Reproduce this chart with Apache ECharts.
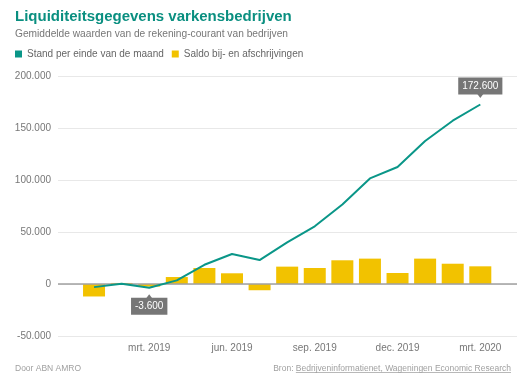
<!DOCTYPE html>
<html><head><meta charset="utf-8">
<script src="https://cdn.jsdelivr.net/npm/echarts@6/dist/echarts.min.js"></script>
<style>html,body{margin:0;padding:0;background:#fff}#c{width:529px;height:380px}</style>
</head><body><div id="c"></div>
<script>
var months = ['jan. 2019','feb. 2019','mrt. 2019','apr. 2019','mei 2019','jun. 2019','jul. 2019','aug. 2019','sep. 2019','okt. 2019','nov. 2019','dec. 2019','jan. 2020','feb. 2020','mrt. 2020'];
var standValues = [-3000, 200, -3600, 3500, 18500, 28800, 23000, 40000, 55500, 76500, 101500, 112500, 137500, 157000, 172600];
var saldoValues = [-12000, 1000, -2500, 6700, 15400, 10300, -6000, 16700, 15400, 22800, 24400, 10600, 24400, 19500, 17000];
var tickMonths = [2, 5, 8, 11, 14];
var yTicks = [-50000, 0, 50000, 100000, 150000, 200000];
var labelledPoints = {2: 'bottom', 14: 'top'};

function fmt(v){ var s = Math.abs(v).toString().replace(/\B(?=(\d{3})+(?!\d))/g, '.'); return (v < 0 ? '-' : '') + s; }

var FONT = 'Liberation Sans, Arial, sans-serif';
var chart = echarts.init(document.getElementById('c'));

var lineData = standValues.map(function(v, i){
  var d = {value: [i, v]};
  if (labelledPoints[i]) {
    d.label = {show: true, position: labelledPoints[i], distance: 10, formatter: fmt(v),
      backgroundColor: '#767676', color: '#fff', fontSize: 10, fontFamily: FONT, padding: [4, 4, 3, 4]};
  }
  return d;
});
var barData = saldoValues.map(function(v, i){ return [i, v]; });
var markers = Object.keys(labelledPoints).map(function(k){
  var i = +k, up = labelledPoints[k] === 'top';
  return {coord: [i, standValues[i]], symbol: 'triangle', symbolRotate: up ? 180 : 0,
    symbolSize: [6, 4], symbolOffset: [0, up ? -8.5 : 8.5], itemStyle: {color: '#767676'}, label: {show: false}};
});

chart.setOption({
  animation: false,
  textStyle: {fontFamily: FONT},
  title: [
    {text: 'Liquiditeitsgegevens varkensbedrijven', left: 15, top: 9, padding: 0,
     textStyle: {color: '#0a8f80', fontSize: 15, fontWeight: 'bold', fontFamily: FONT}},
    {text: 'Gemiddelde waarden van de rekening-courant van bedrijven', left: 15, top: 29, padding: 0,
     textStyle: {color: '#777', fontSize: 10.2, fontWeight: 'normal', fontFamily: FONT}},
    {text: 'Door ABN AMRO', left: 15, top: 364, padding: 0,
     textStyle: {color: '#a0a0a0', fontSize: 8.5, fontWeight: 'normal', fontFamily: FONT}},
    {text: 'Bron: {u|Bedrijveninformatienet, Wageningen Economic Research}', right: 18, top: 364, padding: 0,
     textStyle: {color: '#a0a0a0', fontSize: 8.5, fontWeight: 'normal', fontFamily: FONT,
       rich: {u: {color: '#a0a0a0', fontSize: 8.5, fontFamily: FONT}}}}
  ],
  legend: {
    left: 15, top: 49, padding: 0, icon: 'rect', itemWidth: 7, itemHeight: 7, itemGap: 8,
    textStyle: {color: '#666', fontSize: 10, fontFamily: FONT},
    data: ['Stand per einde van de maand', 'Saldo bij- en afschrijvingen']
  },
  grid: {left: 58, right: 12, top: 76, bottom: 44, containLabel: false},
  xAxis: {
    type: 'value', min: -1.306, max: 15.33,
    axisLine: {show: false}, axisTick: {show: false}, splitLine: {show: false},
    axisLabel: {customValues: tickMonths, color: '#777', fontSize: 10, margin: 7,
      formatter: function(v){ return months[Math.round(v)] || ''; }}
  },
  yAxis: {
    type: 'value', min: yTicks[0], max: yTicks[yTicks.length - 1], interval: 50000,
    axisLine: {show: false}, axisTick: {show: false},
    axisLabel: {color: '#777', fontSize: 10, margin: 7, formatter: fmt},
    splitLine: {lineStyle: {color: '#e8e8e8', width: 1}}
  },
  series: [
    {name: 'Saldo bij- en afschrijvingen', type: 'bar', data: barData, barWidth: 22,
     itemStyle: {color: '#f2c200'}, z: 2,
     markLine: {silent: true, symbol: 'none', label: {show: false},
       lineStyle: {color: '#a0a0a0', width: 1.5, type: 'solid'}, data: [{yAxis: 0}], z: 3}},
    {name: 'Stand per einde van de maand', type: 'line', data: lineData,
     symbol: 'circle', symbolSize: 0.01, showSymbol: true, showAllSymbol: true,
     lineStyle: {color: '#0a9688', width: 2}, itemStyle: {color: '#0a9688'}, z: 4,
     markPoint: {silent: true, data: markers, animation: false}}
  ]
});

// underline for source link
(function(){
  var c = document.createElement('canvas').getContext('2d');
  c.font = '8.5px ' + FONT;
  var w = c.measureText('Bedrijveninformatienet, Wageningen Economic Research').width;
  var right = 529 - 18;
  chart.setOption({graphic: [{type: 'line', silent: true,
    shape: {x1: right - w, y1: 372.5, x2: right, y2: 372.5},
    style: {stroke: '#b8b8b8', lineWidth: 1}}]});
})();
</script></body></html>
